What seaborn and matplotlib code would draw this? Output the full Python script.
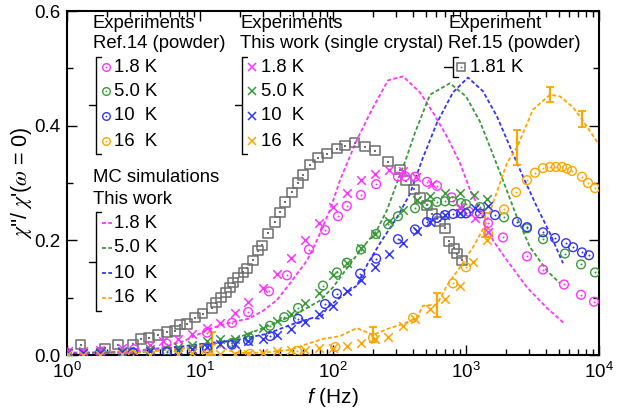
import numpy as np
import pandas as pd
import matplotlib
matplotlib.use("Agg")
import matplotlib.pyplot as plt
from matplotlib.ticker import MultipleLocator, FormatStrFormatter
import seaborn as sns

# ---------------- data ----------------
temps = ["1.8 K", "5.0 K", "10  K", "16  K"]
colors = ["#ff33ff", "#3a9a3a", "#3333ff", "#ffa500"]

# Ref.15 powder, 1.81 K (gray squares)
f_r15 = [1.27,1.93,2.42,3.13,3.60,4.14,4.83,5.65,6.49,7.08,7.98,9.17,10.5,12.3,13.2,14.4,15.7,16.8,17.7,19.3,
         21.1,22.6,25.0,27.3,29.3,32.5,36.6,40.0,43.6,49.2,54.6,59.5,67.2,77.1,90.2,107,123,146,174,207,
         259,319,354,406,451,509,555,638,695,745,812,856,933]
chi_r15 = [.018,.012,.018,.019,.028,.030,.035,.040,.042,.053,.054,.065,.072,.082,.091,.100,.109,.118,.126,.135,
           .144,.151,.165,.182,.191,.212,.232,.249,.267,.284,.300,.314,.332,.344,.351,.360,.365,.370,.363,.356,
           .337,.323,.304,.289,.274,.261,.246,.233,.221,.198,.186,.177,.165]

# Ref.14 powder (open circles)
f_r14_18 = [1.0,1.8,3.2,5.6,11.3,17.4,23.0,33.0,45.1,66.0,87.1,109,127,162,211,308,348,414,509,605,
            780,1050,1463,1897,2875,3793,5458,7325,9170]
chi_r14_18 = [.004,.006,.010,.020,.039,.056,.075,.111,.139,.184,.218,.242,.260,.279,.298,.311,.312,.311,.302,.295,
              .275,.250,.230,.205,.172,.149,.123,.105,.093]
f_r14_50 = [1.0,1.77,3.13,5.65,11.3,17.4,23.4,33.6,43.0,54.6,84.1,107,127,162,211,260,308,414,509,605,695,798,
            917,1000,1274,1931,2875,3793,5548,7325,9333]
chi_r14_50 = [.002,.004,.005,.007,.012,.021,.030,.051,.066,.082,.121,.144,.161,.184,.211,.228,.242,.256,.263,.267,.268,.268,
              .265,.263,.258,.240,.221,.202,.177,.158,.144]
f_r14_10 = [1.0,1.77,3.13,5.65,11.3,17.4,23.0,33.6,54.6,87.1,107,160,211,308,414,509,605,695,798,917,
            1000,1274,1652,2417,2875,3793,4670,5650,6380,7450,8410]
chi_r14_10 = [.002,.002,.004,.005,.011,.018,.025,.033,.063,.089,.107,.142,.168,.202,.219,.232,.239,.244,.246,.247,
              .247,.247,.244,.232,.223,.214,.204,.195,.188,.179,.174]
f_r14_16 = [1.0,3.13,11.3,23.8,53.6,104,200,400,798,1000,1463,1931,2377,2875,3303,3793,4283,4750,5270,5745,
            6265,7450,8265,9333]
chi_r14_16 = [.000,.000,.002,.002,.007,.014,.030,.065,.125,.153,.212,.254,.284,.305,.318,.326,.328,.328,.328,.325,
              .321,.311,.300,.291]

# This work, single crystal (crosses)
f_sc_18 = [1.02,1.32,1.77,2.59,4.21,5.27,6.83,8.71,11.3,14.1,18.3,23.0,29.8,37.9,48.3,61.6,78.5,100,127,162,
           207,264,336,421,555,901,1169,1463]
chi_sc_18 = [.007,.007,.009,.012,.018,.025,.028,.037,.047,.056,.074,.093,.116,.142,.170,.200,.230,.258,.282,.305,
             .316,.323,.321,.311,.298,.258,.239,.214]
f_sc_50 = [1.02,1.32,1.77,2.59,4.21,6.83,8.71,11.3,14.1,18.3,23.0,29.8,37.9,48.3,61.6,78.5,100,127,162,207,
           264,336,428,536,695,901,1148,1438]
chi_sc_50 = [.004,.004,.005,.007,.011,.014,.018,.025,.028,.028,.035,.047,.060,.072,.090,.109,.139,.161,.186,.211,
             .233,.253,.270,.277,.282,.282,.279,.272]
f_sc_10 = [1.02,1.32,1.77,2.59,4.21,6.83,8.71,11.3,14.1,18.3,23.0,29.8,37.9,48.3,61.6,78.5,100,127,162,207,
           264,336,428,536,695,901,1169,1463]
chi_sc_10 = [.004,.004,.004,.005,.007,.009,.011,.014,.019,.019,.025,.028,.035,.046,.058,.072,.086,.111,.130,.153,
             .177,.196,.216,.232,.244,.247,.256,.260]
f_sc_16 = [1.02,1.32,1.77,2.59,4.21,6.83,8.71,11.3,14.1,18.3,23.0,29.8,37.9,48.3,61.6,78.5,100,127,162,207,
           259,336,414,536,695,901,1129,1438]
chi_sc_16 = [.002,.000,.000,.002,.000,.002,.004,.002,.002,.002,.002,.004,.007,.009,.009,.012,.012,.016,.021,.028,
             .032,.051,.063,.081,.098,.121,.163,.200]

# MC simulations (dashed)
f_mc_18 = [1,1.77,3.13,5.0,7.71,11.9,17.7,23.0,29.8,37.9,47.5,63.8,77.1,94.9,113,151,196,259,336,451,
           565,719,901,1072,1274,1596,2033,2875,4064,5548]
chi_mc_18 = [.004,.005,.007,.012,.025,.046,.058,.063,.077,.096,.125,.165,.204,.253,.305,.375,.428,.479,.486,.458,
             .423,.381,.335,.288,.253,.200,.165,.118,.082,.054]
f_mc_50 = [1,3.13,10,16.8,29.8,53.6,79.8,100,127,160,214,255,298,348,414,536,758,1000,1274,1514,
           1931,2417,3030,4064,5093]
chi_mc_50 = [.002,.004,.014,.025,.047,.072,.095,.118,.151,.182,.218,.253,.296,.337,.388,.454,.474,.451,.407,.363,
             .300,.240,.188,.147,.125]
f_mc_10 = [1,3.13,10,17.7,31.9,50.0,70.7,79.8,90.2,113,151,183,233,303,379,467,605,798,1035,1342,
           1710,2143,2684,3419,4283,5360]
chi_mc_10 = [.002,.004,.019,.025,.037,.054,.065,.063,.082,.100,.121,.160,.200,.240,.281,.340,.405,.458,.484,.460,
             .416,.363,.311,.258,.212,.160]
f_mc_16 = [1,1.77,3.13,5.0,7.71,12.3,18.3,29.8,47.5,67.2,84.1,113,151,200,268,336,428,475,605,719,
           901,1129,1390,1652,2033,2417,3190,4283,5093,6380,7450,10000]
chi_mc_16 = [.000,.002,.004,.009,.012,.020,.004,.004,.009,.021,.028,.033,.047,.035,.047,.054,.065,.086,.088,.121,
             .153,.188,.226,.275,.335,.362,.428,.454,.451,.432,.411,.367]
# MC error bars (16 K)
f_err_16 = [12.3, 200, 605, 1390, 2417, 4283, 7450]
chi_err_16 = [.020, .035, .088, .226, .362, .454, .411]
err_16 = [.020, .013, .021, .021, .031, .013, .014]

r14 = [(f_r14_18, chi_r14_18), (f_r14_50, chi_r14_50), (f_r14_10, chi_r14_10), (f_r14_16, chi_r14_16)]
sc = [(f_sc_18, chi_sc_18), (f_sc_50, chi_sc_50), (f_sc_10, chi_sc_10), (f_sc_16, chi_sc_16)]
mc = [(f_mc_18, chi_mc_18), (f_mc_50, chi_mc_50), (f_mc_10, chi_mc_10), (f_mc_16, chi_mc_16)]

# ---------------- style ----------------
sns.set_theme(style="ticks")
plt.rcParams["font.family"] = ["Liberation Sans", "DejaVu Sans"]
plt.rcParams["mathtext.fontset"] = "custom"
plt.rcParams["mathtext.rm"] = "Liberation Sans"
plt.rcParams["mathtext.it"] = "Liberation Sans:italic"
plt.rcParams["mathtext.bf"] = "Liberation Sans:bold"
for k in ["text.color", "axes.labelcolor", "xtick.color", "ytick.color", "axes.edgecolor"]:
    plt.rcParams[k] = "black"

W, H = 622, 418
fig = plt.figure(figsize=(W / 100, H / 100), dpi=100)
ax = fig.add_axes([67 / W, 1 - 355 / H, (599 - 67) / W, (355 - 11) / H])

DASH = (0, (2.2, 1.3))

# MC dashed lines
for (f, c), col in zip(mc, colors):
    df = pd.DataFrame({"f": f, "chi": c})
    sns.lineplot(data=df, x="f", y="chi", ax=ax, color=col, lw=1.3, linestyle=DASH,
                 estimator=None, sort=False, zorder=2)
ax.errorbar(f_err_16, chi_err_16, yerr=err_16, fmt="none", ecolor=colors[3],
            elinewidth=1.6, capsize=3, capthick=1.3, zorder=3)

# Ref.15 squares
df15 = pd.DataFrame({"f": f_r15, "chi": chi_r15})
sns.scatterplot(data=df15, x="f", y="chi", ax=ax, marker="s", s=44, facecolor="none",
                edgecolor="#6e6e6e", linewidth=1.1, zorder=4)
sns.scatterplot(data=df15, x="f", y="chi", ax=ax, marker="s", s=2, color="#6e6e6e",
                linewidth=0, zorder=4)

# Ref.14 circles
for (f, c), col in zip(r14, colors):
    df = pd.DataFrame({"f": f, "chi": c})
    sns.scatterplot(data=df, x="f", y="chi", ax=ax, marker="o", s=40, facecolor="none",
                    edgecolor=col, linewidth=1.0, zorder=4)
    sns.scatterplot(data=df, x="f", y="chi", ax=ax, marker="o", s=2, color=col,
                    linewidth=0, zorder=4)

# single crystal crosses
for (f, c), col in zip(sc, colors):
    df = pd.DataFrame({"f": f, "chi": c})
    sns.scatterplot(data=df, x="f", y="chi", ax=ax, marker="x", s=38, color=col,
                    linewidth=1.1, zorder=4)

ax.set_xscale("log")
ax.set_xlim(1, 1e4)
ax.set_ylim(0, 0.6)
ax.yaxis.set_major_locator(MultipleLocator(0.2))
ax.yaxis.set_minor_locator(MultipleLocator(0.1))
ax.yaxis.set_major_formatter(FormatStrFormatter("%.1f"))
ax.tick_params(which="both", direction="in", top=True, right=True, labelsize=13.5, width=1.0)
ax.tick_params(which="major", length=7, pad=5)
ax.tick_params(which="minor", length=4)
for sp in ax.spines.values():
    sp.set_linewidth(1.5)
    sp.set_color("black")
ax.set_xlabel(r"$f$ (Hz)", fontsize=15, labelpad=3)
ax.set_ylabel(r"$\chi$''/ $\chi$'($\omega$ = 0)", fontsize=15.5, math_fontfamily="stix")
ax.yaxis.set_label_coords(-0.062, 0.5)

# ---------------- legend overlay (pixel coordinates) ----------------
ov = fig.add_axes([0, 0, 1, 1], zorder=5)
ov.set_xlim(0, W)
ov.set_ylim(H, 0)
ov.axis("off")
FS = 13.3
entry_y = [67, 91, 116, 141]


def bracket(x, y0, y1, ymid, cap=5, tick=7):
    ov.plot([x + cap, x, x, x + cap], [y0, y0, y1, y1], color="black", lw=1.0)
    ov.plot([x - tick, x], [ymid, ymid], color="black", lw=1.0)


# group 1: Ref.14
ov.text(93, 23, "Experiments", fontsize=FS, va="center", ha="left")
ov.text(93, 43, "Ref.14 (powder)", fontsize=FS, va="center", ha="left")
bracket(96, 57, 154, 105)
for t, col, y in zip(temps, colors, entry_y):
    ov.plot([106], [y], marker="o", mfc="none", mec=col, ms=5.5, mew=1.0)
    ov.plot([106], [y], marker="o", color=col, ms=1.2, mew=0)
    ov.text(114, y, t, fontsize=FS, va="center", ha="left")

# group 2: single crystal
ov.text(240, 23, "Experiments", fontsize=FS, va="center", ha="left")
ov.text(240, 43, "This work (single crystal)", fontsize=FS, va="center", ha="left")
bracket(242, 57, 154, 105)
for t, col, y in zip(temps, colors, entry_y):
    ov.plot([252], [y], marker="x", color=col, ms=5.5, mew=1.1)
    ov.text(261, y, t, fontsize=FS, va="center", ha="left")

# group 3: Ref.15
ov.text(448, 23, "Experiment", fontsize=FS, va="center", ha="left")
ov.text(448, 43, "Ref.15 (powder)", fontsize=FS, va="center", ha="left")
bracket(453, 57, 77, 67, tick=9)
ov.plot([461], [67], marker="s", mfc="none", mec="#6e6e6e", ms=6, mew=1.1)
ov.plot([461], [67], marker="s", color="#6e6e6e", ms=1.2, mew=0)
ov.text(470, 67, "1.81 K", fontsize=FS, va="center", ha="left")

# group 4: MC
ov.text(93, 178, "MC simulations", fontsize=FS, va="center", ha="left")
ov.text(93, 199, "This work", fontsize=FS, va="center", ha="left")
bracket(96, 212, 311, 262)
for t, col, y in zip(temps, colors, [223, 248, 273, 298]):
    ov.plot([102, 112], [y, y], color=col, lw=1.3, linestyle=DASH)
    ov.text(114, y, t, fontsize=FS, va="center", ha="left")

fig.savefig("out.png", dpi=100)
